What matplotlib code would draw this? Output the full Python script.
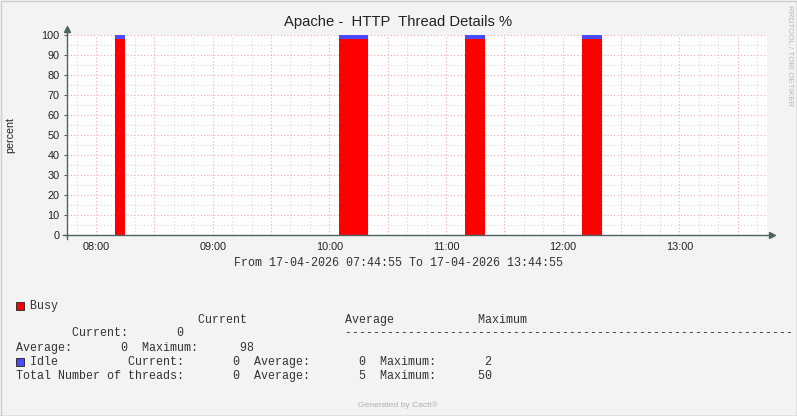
import matplotlib
matplotlib.use("Agg")
import matplotlib.pyplot as plt
from matplotlib.lines import Line2D

W, H = 797, 416

# samples (5 minute steps), start time of each step
sample_times = ["08:10", "10:05", "10:10", "10:15", "11:10", "11:15", "12:10", "12:15"]
busy_pct = [98, 98, 98, 98, 98, 98, 98, 98]
idle_pct = [2, 2, 2, 2, 2, 2, 2, 2]
step_min = 5

t_start = "07:44:55"
t_end = "13:44:55"
hour_labels = ["08:00", "09:00", "10:00", "11:00", "12:00", "13:00"]
y_ticks = [0, 10, 20, 30, 40, 50, 60, 70, 80, 90, 100]

# legend stats
busy_cur, busy_avg, busy_max = 0, 0, 98
idle_cur, idle_avg, idle_max = 0, 0, 2
tot_cur, tot_avg, tot_max = 0, 5, 50


def to_min(s):
    parts = [int(p) for p in s.split(":")]
    if len(parts) == 2:
        parts.append(0)
    return parts[0] * 60 + parts[1] + parts[2] / 60


def fx(x):
    return x / W


def fy(y):
    return 1 - y / H


sans = "Liberation Sans"
mono = "Liberation Mono"

fig = plt.figure(figsize=(W / 100, H / 100), dpi=100, facecolor="#F3F3F3")
ax = fig.add_axes([fx(66.7), fy(235), 700 / W, 200 / H])
ax.set_facecolor("white")

x0, x1 = to_min(t_start), to_min(t_end)
ax.set_xlim(x0, x1)
ax.set_ylim(0, 100)

# grid
minor_x = [m for m in range(470, 830, 10)]
major_x = [m for m in range(480, 830, 30)]
for m in minor_x:
    if m not in major_x and x0 < m < x1:
        ax.axvline(m, color="#D8D8D8", lw=0.8, ls=(0, (1, 2)), zorder=0)
for v in range(5, 101, 10):
    ax.axhline(v, color="#D8D8D8", lw=0.8, ls=(0, (1, 2)), zorder=0)
for m in major_x:
    if x0 < m < x1:
        ax.axvline(m, color="#EDA8A8", lw=0.8, ls=(0, (1, 2)), zorder=0.5)
for v in y_ticks[1:]:
    ax.axhline(v, color="#EDA8A8", lw=0.8, ls=(0, (1, 2)), zorder=0.5)

xs = [to_min(t) for t in sample_times]
ax.bar(xs, busy_pct, width=step_min, align="edge", color="#FF0000", lw=0, zorder=2)
ax.bar(xs, idle_pct, width=step_min, bottom=busy_pct, align="edge",
       color="#4A4AFF", lw=0, zorder=2)

for s in ax.spines.values():
    s.set_visible(False)

axis_col = "#4F6262"
ax.plot([0, 0], [-0.02, 1.025], transform=ax.transAxes, color=axis_col,
        lw=1, clip_on=False, zorder=3)
ax.plot([0], [1.03], marker="^", ms=4, color=axis_col, transform=ax.transAxes,
        clip_on=False, zorder=3)
ax.plot([-0.005, 1.005], [0, 0], transform=ax.transAxes, color=axis_col,
        lw=1, clip_on=False, zorder=3)
ax.plot([1.008], [0], marker=">", ms=4, color=axis_col, transform=ax.transAxes,
        clip_on=False, zorder=3)

ax.set_yticks(y_ticks)
ax.set_yticklabels([str(v) for v in y_ticks], fontfamily=sans, fontsize=7.8)
ax.set_xticks([to_min(h) for h in hour_labels])
ax.set_xticklabels(hour_labels, fontfamily=sans, fontsize=7.8)
ax.tick_params(axis="y", length=2.5, width=0.8, color=axis_col, pad=2.5, colors="#222222")
ax.tick_params(axis="x", length=0, pad=5, colors="#222222")

# title and texts
fig.text(fx(398), fy(22), "Apache -  HTTP  Thread Details %", ha="center", va="center",
         fontfamily=sans, fontsize=10.6, color="#222222")
fig.text(fx(10), fy(135), "percent", rotation=90, ha="center", va="center",
         fontfamily=sans, fontsize=7.7, color="#222222")
fig.text(fx(789), fy(5), "RRDTOOL / TOBI OETIKER", rotation=270, ha="center", va="top",
         fontfamily=sans, fontsize=5.8, color="#B8B8B8")
fig.text(fx(398), fy(263), "From 17-04-2026 07:44:55 To 17-04-2026 13:44:55",
         ha="center", va="center", fontfamily=mono, fontsize=8.42, color="#333333")
fig.text(fx(398), fy(405), "Generated by Cacti\u00ae", ha="center", va="center",
         fontfamily=sans, fontsize=6.1, color="#B0B0B0")

rows = [
    "  Busy",
    " " * 26 + "Current" + " " * 14 + "Average" + " " * 12 + "Maximum",
    f"        Current:{busy_cur:>8}" + " " * 23 + "-" * 64,
    f"Average:{busy_avg:>8}  Maximum:{busy_max:>8}",
    f"  Idle          Current:{idle_cur:>8}  Average:{idle_avg:>8}  Maximum:{idle_max:>8}",
    f"Total Number of threads:{tot_cur:>8}  Average:{tot_avg:>8}  Maximum:{tot_max:>8}",
]
for i, r in enumerate(rows):
    fig.text(fx(16.5), fy(308.5 + 14 * i), r, ha="left", va="baseline",
             fontfamily=mono, fontsize=8.42, color="#333333")

# legend colour boxes
for y, c in [(302, "#FF0000"), (358, "#4A4AFF")]:
    fig.add_artist(plt.Rectangle((fx(15.5), fy(y + 8)), 8 / W, 8 / H, facecolor=c,
                                 edgecolor="#333333", lw=0.7, transform=fig.transFigure))

# frame
fig.add_artist(Line2D([0.5 / W, 0.5 / W, 1 - 0.5 / W], [0.5 / H, 1 - 0.5 / H, 1 - 0.5 / H],
                      color="#CFCFCF", lw=1, transform=fig.transFigure))
fig.add_artist(Line2D([0.5 / W, 1 - 0.5 / W, 1 - 0.5 / W], [0.5 / H, 0.5 / H, 1 - 0.5 / H],
                      color="#9A9A9A", lw=1, transform=fig.transFigure))

fig.savefig("out.png", dpi=100, facecolor=fig.get_facecolor())
